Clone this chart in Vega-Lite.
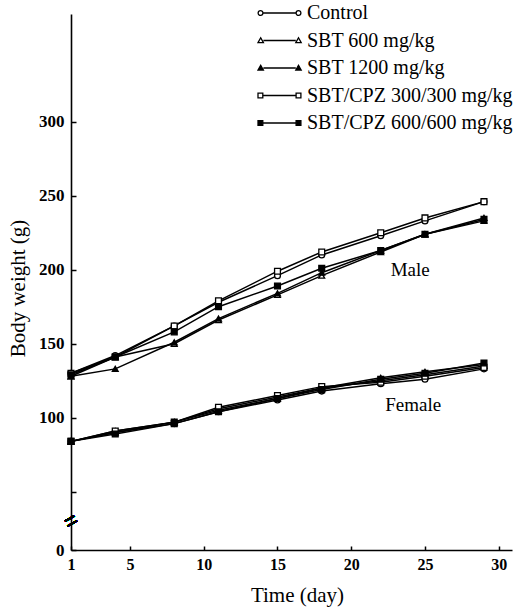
{
  "$schema": "https://vega.github.io/schema/vega-lite/v6.json",
  "width": 441,
  "height": 536,
  "autosize": {"type": "none"},
  "padding": {"left": 71, "top": 14, "right": 14, "bottom": 57},
  "background": "white",
  "config": {
    "view": {"stroke": null},
    "font": "Liberation Serif",
    "axis": {
      "domainColor": "black", "domainWidth": 1.6, "tickColor": "black", "tickWidth": 1.5,
      "grid": false, "labelColor": "black", "titleColor": "black",
      "labelFont": "Liberation Serif", "titleFont": "Liberation Serif"
    },
    "legend": {
      "title": null, "orient": "none", "legendX": 183, "legendY": -11,
      "symbolSize": 144, "symbolOpacity": 1, "symbolStrokeWidth": 1.3,
      "labelOffset": 33, "labelFontSize": 20, "labelFont": "Liberation Serif", "labelColor": "black",
      "rowPadding": 7.5, "padding": 0, "labelLimit": 400
    }
  },
  "datasets": {
    "bw": [
      {"sex": "Male", "group": "Control", "day": 1, "weight": 130},
      {"sex": "Male", "group": "Control", "day": 4, "weight": 142},
      {"sex": "Male", "group": "Control", "day": 8, "weight": 162},
      {"sex": "Male", "group": "Control", "day": 11, "weight": 178},
      {"sex": "Male", "group": "Control", "day": 15, "weight": 196},
      {"sex": "Male", "group": "Control", "day": 18, "weight": 210},
      {"sex": "Male", "group": "Control", "day": 22, "weight": 223},
      {"sex": "Male", "group": "Control", "day": 25, "weight": 233},
      {"sex": "Male", "group": "Control", "day": 29, "weight": 246},
      {"sex": "Male", "group": "SBT 600 mg/kg", "day": 1, "weight": 128},
      {"sex": "Male", "group": "SBT 600 mg/kg", "day": 4, "weight": 141},
      {"sex": "Male", "group": "SBT 600 mg/kg", "day": 8, "weight": 150},
      {"sex": "Male", "group": "SBT 600 mg/kg", "day": 11, "weight": 166},
      {"sex": "Male", "group": "SBT 600 mg/kg", "day": 15, "weight": 183},
      {"sex": "Male", "group": "SBT 600 mg/kg", "day": 18, "weight": 196},
      {"sex": "Male", "group": "SBT 600 mg/kg", "day": 22, "weight": 212},
      {"sex": "Male", "group": "SBT 600 mg/kg", "day": 25, "weight": 224},
      {"sex": "Male", "group": "SBT 600 mg/kg", "day": 29, "weight": 233},
      {"sex": "Male", "group": "SBT 1200 mg/kg", "day": 1, "weight": 128},
      {"sex": "Male", "group": "SBT 1200 mg/kg", "day": 4, "weight": 133},
      {"sex": "Male", "group": "SBT 1200 mg/kg", "day": 8, "weight": 151},
      {"sex": "Male", "group": "SBT 1200 mg/kg", "day": 11, "weight": 167},
      {"sex": "Male", "group": "SBT 1200 mg/kg", "day": 15, "weight": 184},
      {"sex": "Male", "group": "SBT 1200 mg/kg", "day": 18, "weight": 198},
      {"sex": "Male", "group": "SBT 1200 mg/kg", "day": 22, "weight": 213},
      {"sex": "Male", "group": "SBT 1200 mg/kg", "day": 25, "weight": 224},
      {"sex": "Male", "group": "SBT 1200 mg/kg", "day": 29, "weight": 235},
      {"sex": "Male", "group": "SBT/CPZ 300/300 mg/kg", "day": 1, "weight": 130},
      {"sex": "Male", "group": "SBT/CPZ 300/300 mg/kg", "day": 4, "weight": 141},
      {"sex": "Male", "group": "SBT/CPZ 300/300 mg/kg", "day": 8, "weight": 162},
      {"sex": "Male", "group": "SBT/CPZ 300/300 mg/kg", "day": 11, "weight": 179},
      {"sex": "Male", "group": "SBT/CPZ 300/300 mg/kg", "day": 15, "weight": 199},
      {"sex": "Male", "group": "SBT/CPZ 300/300 mg/kg", "day": 18, "weight": 212},
      {"sex": "Male", "group": "SBT/CPZ 300/300 mg/kg", "day": 22, "weight": 225},
      {"sex": "Male", "group": "SBT/CPZ 300/300 mg/kg", "day": 25, "weight": 235},
      {"sex": "Male", "group": "SBT/CPZ 300/300 mg/kg", "day": 29, "weight": 246},
      {"sex": "Male", "group": "SBT/CPZ 600/600 mg/kg", "day": 1, "weight": 129},
      {"sex": "Male", "group": "SBT/CPZ 600/600 mg/kg", "day": 4, "weight": 141},
      {"sex": "Male", "group": "SBT/CPZ 600/600 mg/kg", "day": 8, "weight": 158},
      {"sex": "Male", "group": "SBT/CPZ 600/600 mg/kg", "day": 11, "weight": 175},
      {"sex": "Male", "group": "SBT/CPZ 600/600 mg/kg", "day": 15, "weight": 189},
      {"sex": "Male", "group": "SBT/CPZ 600/600 mg/kg", "day": 18, "weight": 201},
      {"sex": "Male", "group": "SBT/CPZ 600/600 mg/kg", "day": 22, "weight": 213},
      {"sex": "Male", "group": "SBT/CPZ 600/600 mg/kg", "day": 25, "weight": 224},
      {"sex": "Male", "group": "SBT/CPZ 600/600 mg/kg", "day": 29, "weight": 234},
      {"sex": "Female", "group": "Control", "day": 1, "weight": 84},
      {"sex": "Female", "group": "Control", "day": 4, "weight": 90},
      {"sex": "Female", "group": "Control", "day": 8, "weight": 96},
      {"sex": "Female", "group": "Control", "day": 11, "weight": 104},
      {"sex": "Female", "group": "Control", "day": 15, "weight": 112},
      {"sex": "Female", "group": "Control", "day": 18, "weight": 118},
      {"sex": "Female", "group": "Control", "day": 22, "weight": 123},
      {"sex": "Female", "group": "Control", "day": 25, "weight": 126},
      {"sex": "Female", "group": "Control", "day": 29, "weight": 133},
      {"sex": "Female", "group": "SBT 600 mg/kg", "day": 1, "weight": 84},
      {"sex": "Female", "group": "SBT 600 mg/kg", "day": 4, "weight": 91},
      {"sex": "Female", "group": "SBT 600 mg/kg", "day": 8, "weight": 97},
      {"sex": "Female", "group": "SBT 600 mg/kg", "day": 11, "weight": 106},
      {"sex": "Female", "group": "SBT 600 mg/kg", "day": 15, "weight": 114},
      {"sex": "Female", "group": "SBT 600 mg/kg", "day": 18, "weight": 120},
      {"sex": "Female", "group": "SBT 600 mg/kg", "day": 22, "weight": 125},
      {"sex": "Female", "group": "SBT 600 mg/kg", "day": 25, "weight": 129},
      {"sex": "Female", "group": "SBT 600 mg/kg", "day": 29, "weight": 135},
      {"sex": "Female", "group": "SBT 1200 mg/kg", "day": 1, "weight": 84},
      {"sex": "Female", "group": "SBT 1200 mg/kg", "day": 4, "weight": 90},
      {"sex": "Female", "group": "SBT 1200 mg/kg", "day": 8, "weight": 97},
      {"sex": "Female", "group": "SBT 1200 mg/kg", "day": 11, "weight": 105},
      {"sex": "Female", "group": "SBT 1200 mg/kg", "day": 15, "weight": 113},
      {"sex": "Female", "group": "SBT 1200 mg/kg", "day": 18, "weight": 120},
      {"sex": "Female", "group": "SBT 1200 mg/kg", "day": 22, "weight": 127},
      {"sex": "Female", "group": "SBT 1200 mg/kg", "day": 25, "weight": 131},
      {"sex": "Female", "group": "SBT 1200 mg/kg", "day": 29, "weight": 136},
      {"sex": "Female", "group": "SBT/CPZ 300/300 mg/kg", "day": 1, "weight": 84},
      {"sex": "Female", "group": "SBT/CPZ 300/300 mg/kg", "day": 4, "weight": 91},
      {"sex": "Female", "group": "SBT/CPZ 300/300 mg/kg", "day": 8, "weight": 97},
      {"sex": "Female", "group": "SBT/CPZ 300/300 mg/kg", "day": 11, "weight": 107},
      {"sex": "Female", "group": "SBT/CPZ 300/300 mg/kg", "day": 15, "weight": 115},
      {"sex": "Female", "group": "SBT/CPZ 300/300 mg/kg", "day": 18, "weight": 121},
      {"sex": "Female", "group": "SBT/CPZ 300/300 mg/kg", "day": 22, "weight": 124},
      {"sex": "Female", "group": "SBT/CPZ 300/300 mg/kg", "day": 25, "weight": 128},
      {"sex": "Female", "group": "SBT/CPZ 300/300 mg/kg", "day": 29, "weight": 134},
      {"sex": "Female", "group": "SBT/CPZ 600/600 mg/kg", "day": 1, "weight": 84},
      {"sex": "Female", "group": "SBT/CPZ 600/600 mg/kg", "day": 4, "weight": 89},
      {"sex": "Female", "group": "SBT/CPZ 600/600 mg/kg", "day": 8, "weight": 96},
      {"sex": "Female", "group": "SBT/CPZ 600/600 mg/kg", "day": 11, "weight": 104},
      {"sex": "Female", "group": "SBT/CPZ 600/600 mg/kg", "day": 15, "weight": 113},
      {"sex": "Female", "group": "SBT/CPZ 600/600 mg/kg", "day": 18, "weight": 119},
      {"sex": "Female", "group": "SBT/CPZ 600/600 mg/kg", "day": 22, "weight": 126},
      {"sex": "Female", "group": "SBT/CPZ 600/600 mg/kg", "day": 25, "weight": 130},
      {"sex": "Female", "group": "SBT/CPZ 600/600 mg/kg", "day": 29, "weight": 137}
    ],
    "labels": [
      {"sex": "Male", "day": 24, "weight": 200},
      {"sex": "Female", "day": 24.2, "weight": 108.5}
    ]
  },
  "data": {"name": "bw"},
  "encoding": {
    "x": {
      "field": "day", "type": "quantitative",
      "scale": {"domain": [1, 30.9], "nice": false, "zero": false},
      "axis": {
        "title": "Time (day)", "values": [1, 5, 10, 15, 20, 25, 30],
        "tickSize": -4, "labelPadding": 10, "labelFontSize": 16, "labelFontWeight": "bold",
        "labelFlush": false, "titleFontSize": 21, "titleFontWeight": "normal",
        "titleY": 51, "titleBaseline": "alphabetic", "titleX": 226
      }
    },
    "y": {
      "field": "weight", "type": "quantitative",
      "scale": {"domain": [10.6, 372.8], "nice": false, "zero": false},
      "axis": {
        "title": "Body weight (g)", "values": [10.6, 50, 100, 150, 200, 250, 300],
        "labelExpr": "datum.value < 20 ? '0' : datum.value == 50 ? '' : datum.label",
        "tickSize": -5, "labelPadding": 12, "labelFontSize": 17, "labelFontWeight": "bold",
        "labelFlush": false, "titleFontSize": 21, "titleFontWeight": "normal",
        "titleX": -53, "titleY": 274, "titleBaseline": "middle"
      }
    }
  },
  "layer": [
    {
      "mark": {"type": "line", "color": "black", "strokeWidth": 1.5},
      "encoding": {"detail": [{"field": "group"}, {"field": "sex"}]}
    },
    {
      "mark": {"type": "point", "stroke": "black", "strokeWidth": 1.3, "opacity": 1, "filled": false},
      "encoding": {
        "shape": {
          "field": "group", "type": "nominal",
          "scale": {
            "domain": ["Control", "SBT 600 mg/kg", "SBT 1200 mg/kg", "SBT/CPZ 300/300 mg/kg", "SBT/CPZ 600/600 mg/kg"],
            "range": ["circle", "triangle-up", "triangle-up", "square", "square"]
          },
          "legend": null
        },
        "fill": {
          "field": "group", "type": "nominal",
          "scale": {
            "domain": ["Control", "SBT 600 mg/kg", "SBT 1200 mg/kg", "SBT/CPZ 300/300 mg/kg", "SBT/CPZ 600/600 mg/kg"],
            "range": ["white", "white", "black", "white", "black"]
          },
          "legend": null
        },
        "size": {"value": 34}
      }
    },
    {
      "mark": {"type": "point", "strokeWidth": 1.3, "opacity": 0, "filled": false},
      "encoding": {
        "shape": {
          "field": "group", "type": "nominal",
          "scale": {
            "domain": ["Control", "SBT 600 mg/kg", "SBT 1200 mg/kg", "SBT/CPZ 300/300 mg/kg", "SBT/CPZ 600/600 mg/kg"],
            "range": [
              "M-0.98,0A0.4,0.4 0 1,0 -0.18,0A0.4,0.4 0 1,0 -0.98,0ZM-0.18,0L5.35,0M5.35,0A0.4,0.4 0 1,0 6.15,0A0.4,0.4 0 1,0 5.35,0Z",
              "M-0.55,-0.45L-0.1,0.35L-1,0.35ZM-0.1,0L5.3,0M5.75,-0.45L6.2,0.35L5.3,0.35Z",
              "M-0.55,-0.45L-0.1,0.35L-1,0.35ZM-0.1,0L5.3,0M5.75,-0.45L6.2,0.35L5.3,0.35Z",
              "M-1,-0.4L-0.2,-0.4L-0.2,0.4L-1,0.4ZM-0.2,0L5.35,0M5.35,-0.4L6.15,-0.4L6.15,0.4L5.35,0.4Z",
              "M-1,-0.4L-0.2,-0.4L-0.2,0.4L-1,0.4ZM-0.2,0L5.35,0M5.35,-0.4L6.15,-0.4L6.15,0.4L5.35,0.4Z"
            ]
          }
        },
        "fill": {
          "field": "group", "type": "nominal",
          "scale": {
            "domain": ["Control", "SBT 600 mg/kg", "SBT 1200 mg/kg", "SBT/CPZ 300/300 mg/kg", "SBT/CPZ 600/600 mg/kg"],
            "range": ["white", "white", "black", "white", "black"]
          }
        },
        "stroke": {
          "field": "group", "type": "nominal",
          "scale": {
            "domain": ["Control", "SBT 600 mg/kg", "SBT 1200 mg/kg", "SBT/CPZ 300/300 mg/kg", "SBT/CPZ 600/600 mg/kg"],
            "range": ["black", "black", "black", "black", "black"]
          }
        }
      }
    },
    {
      "data": {"name": "labels"},
      "mark": {"type": "text", "font": "Liberation Serif", "fontSize": 19, "color": "black"},
      "encoding": {"text": {"field": "sex"}}
    },
    {
      "mark": {"type": "text", "text": "=", "font": "Liberation Sans", "fontSize": 22, "angle": 330, "color": "black", "clip": false},
      "encoding": {"x": {"datum": 1}, "y": {"datum": 30}}
    }
  ],
  "resolve": {"scale": {"shape": "independent", "fill": "independent", "stroke": "independent"}}
}
